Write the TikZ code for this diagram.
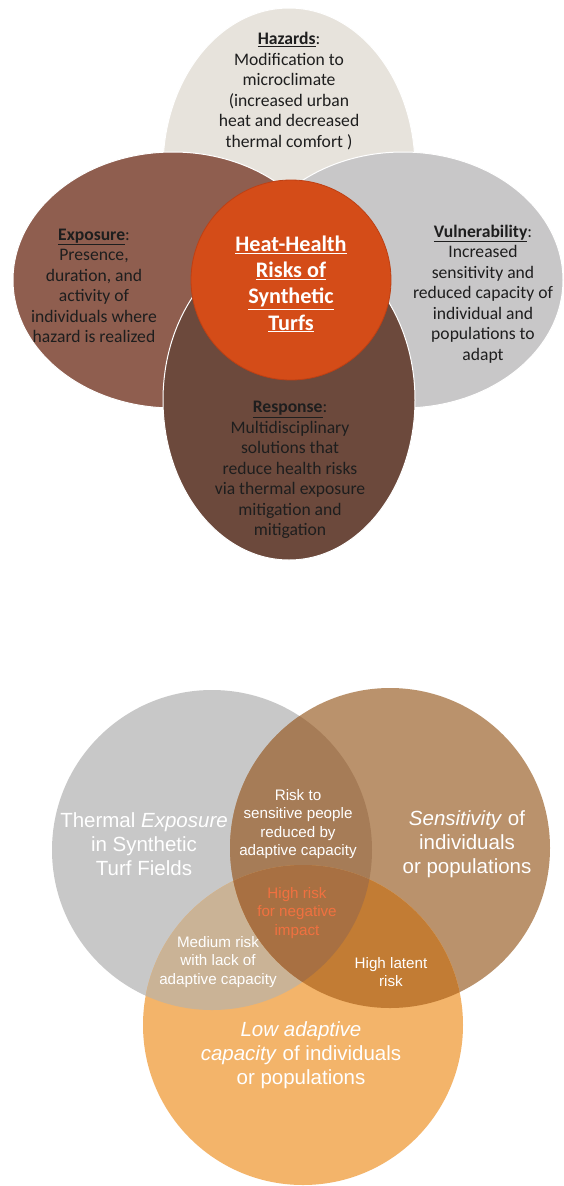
\documentclass[tikz,border=0pt]{standalone}
\usepackage{fontspec}
\setmainfont{Carlito}
\newfontfamily\vennfont{Liberation Sans}
\usetikzlibrary{positioning}
\definecolor{ink}{RGB}{30,30,30}
\definecolor{hazardfill}{RGB}{231,227,220}
\definecolor{exposurefill}{RGB}{143,94,79}
\definecolor{vulnfill}{RGB}{200,199,200}
\definecolor{responsefill}{RGB}{108,73,60}
\definecolor{hubfill}{RGB}{212,76,24}
\definecolor{hubedge}{RGB}{190,64,20}
\definecolor{greyset}{RGB}{200,200,200}
\definecolor{brownset}{RGB}{186,146,108}
\definecolor{orangeset}{RGB}{243,180,106}
\definecolor{greybrown}{RGB}{166,124,87}
\definecolor{greyorange}{RGB}{202,179,150}
\definecolor{brownorange}{RGB}{194,124,52}
\definecolor{allthree}{RGB}{168,112,66}
\definecolor{riskred}{RGB}{240,112,64}
\tikzset{
    petal/.style={draw=white, line width=1pt},
    hubcircle/.style={fill=hubfill, draw=hubedge, line width=0.8pt},
    petaltext/.style={
        align=center,
        text=ink,
        inner sep=0pt,
        font=\fontsize{17.6}{20.5}\selectfont
    },
    hubtext/.style={
        align=center,
        text=white,
        inner sep=0pt,
        font=\fontsize{22.2}{26.2}\selectfont\bfseries
    },
    vennlabel/.style={
        align=center,
        text=white,
        inner sep=0pt,
        font=\vennfont\fontsize{20.5}{24.2}\selectfont
    },
    vennsmall/.style={
        align=center,
        text=white,
        inner sep=0pt,
        font=\vennfont\fontsize{15.2}{18.6}\selectfont
    }
}
\newcommand{\headword}[1]{\underline{\textbf{#1}}:}

\begin{document}
\begin{tikzpicture}[x=1pt, y=-1pt]
\useasboundingbox[fill=white] (0,0) rectangle (563,1186);

% === TOP: four petals round the hub ===
\path[petal, fill=hazardfill] (289,168) ellipse [x radius=126, y radius=160];
\path[petal, fill=exposurefill] (173,280) ellipse [x radius=160, y radius=128];
\path[petal, fill=vulnfill] (403,280) ellipse [x radius=160, y radius=128];
\path[petal, fill=responsefill] (289,400) ellipse [x radius=126, y radius=160];
\path[hubcircle] (291,280) circle [radius=100];

\node[petaltext] (hazards) at (289,91) {\headword{Hazards}\\Modification to\\microclimate\\(increased urban\\heat and decreased\\thermal comfort )};
\node[petaltext] (exposure) at (94,286) {\headword{Exposure}\\Presence,\\duration, and\\activity of\\individuals where\\hazard is realized};
\node[petaltext] (vulnerability) at (483,294) {\headword{Vulnerability}\\Increased\\sensitivity and\\reduced capacity of\\individual and\\populations to\\adapt};
\node[petaltext] (response) at (290,470) {\headword{Response}\\Multidisciplinary\\solutions that\\reduce health risks\\via thermal exposure\\mitigation and\\mitigation};
\node[hubtext] (hub) at (291,284) {\underline{Heat-Health}\\\underline{Risks of}\\\underline{Synthetic}\\\underline{Turfs}};

% === BOTTOM: three-set Venn ===
\fill[greyset] (212,850) circle [radius=160];
\fill[brownset] (390,848) circle [radius=160];
\fill[orangeset] (303,1025) circle [radius=160];
\begin{scope}
    \clip (212,850) circle [radius=160];
    \fill[greybrown] (390,848) circle [radius=160];
    \fill[greyorange] (303,1025) circle [radius=160];
\end{scope}
\begin{scope}
    \clip (390,848) circle [radius=160];
    \fill[brownorange] (303,1025) circle [radius=160];
    \clip (212,850) circle [radius=160];
    \fill[allthree] (303,1025) circle [radius=160];
\end{scope}

\node[vennlabel] (thermal) at (144,844) {Thermal \textit{Exposure}\\in Synthetic\\Turf Fields};
\node[vennlabel] (sensitivity) at (467,844) {\textit{Sensitivity} of\\individuals\\or populations};
\node[vennsmall] (reduced) at (298,824) {Risk to\\sensitive people\\reduced by\\adaptive capacity};
\node[vennsmall, text=riskred] (highrisk) at (297,913) {High risk\\for negative\\impact};
\node[vennsmall] (mediumrisk) at (218,962) {Medium risk\\with lack of\\adaptive capacity};
\node[vennsmall] (latent) at (391,972) {High latent\\risk};
\node[vennlabel] (lowcap) at (301,1055) {\textit{Low adaptive}\\\textit{capacity} of individuals\\or populations};

\end{tikzpicture}
\end{document}
